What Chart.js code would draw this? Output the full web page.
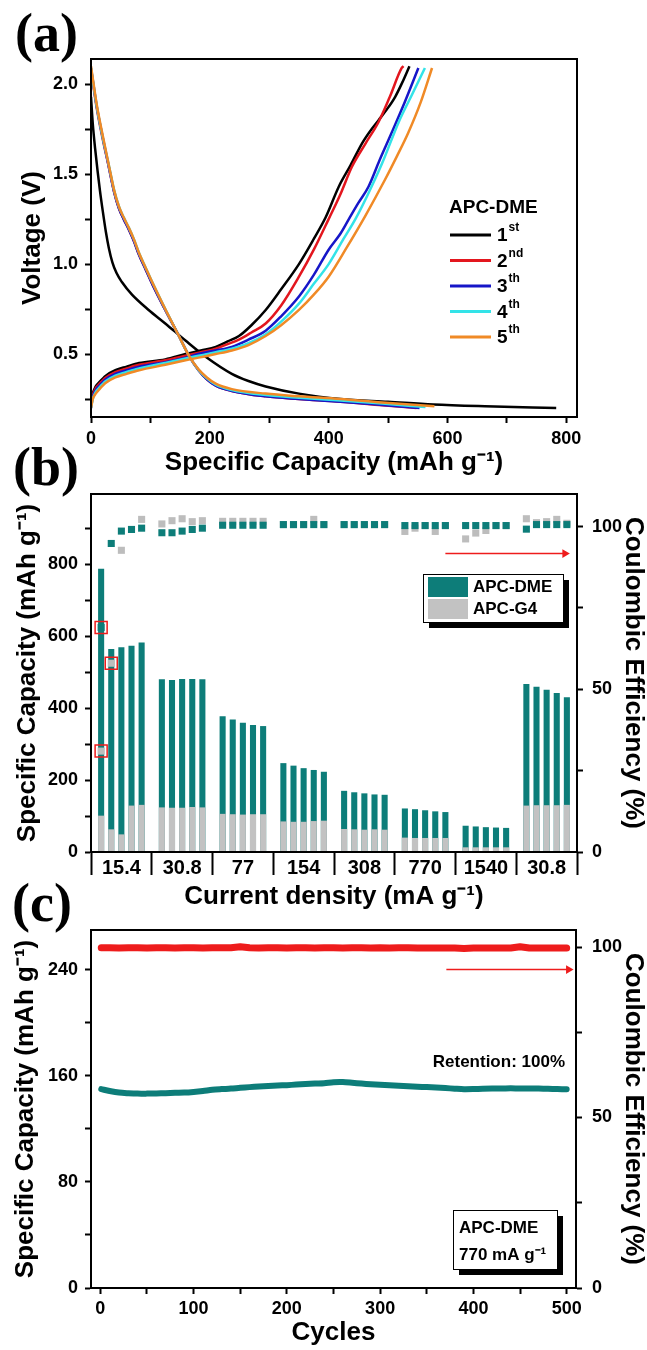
<!DOCTYPE html>
<html>
<head>
<meta charset="utf-8">
<script src="https://cdn.jsdelivr.net/npm/chart.js@4.4.1/dist/chart.umd.min.js"></script>
<style>
  html, body { margin: 0; padding: 0; background: #fff; }
  #wrap { position: relative; width: 647px; height: 1350px; }
  #wrap canvas { position: absolute; left: 0; top: 0; }
</style>
</head>
<body>
<div id="wrap">
  <canvas id="chartA" width="647" height="1350"></canvas>
  <canvas id="chartB" width="647" height="1350"></canvas>
  <canvas id="chartC" width="647" height="1350"></canvas>
</div>
<script>
// ---------- (a) charge/discharge profiles, [capacity mAh/g, voltage V] ----------
const cycleNames = ["1", "2", "3", "4", "5"];
const cycleSups = ["st", "nd", "th", "th", "th"];
const cycleColors = ["#000000", "#e3161e", "#1616c8", "#33e3e8", "#f08a26"];

const dis1 = [[0,1.93],[3,1.78],[7,1.64],[11,1.52],[15,1.41],[20,1.29],[25,1.18],[30,1.09],[36,1.01],[43,0.95],[52,0.9],[69,0.83],[97,0.745],[125,0.67],[159,0.575],[193,0.485],[237,0.39],[265,0.35],[294,0.32],[350,0.28],[420,0.25],[500,0.235],[576,0.22],[663,0.21],[783,0.2]];
const dis2 = [[0,2.08],[10,1.86],[20,1.69],[30,1.54],[39,1.4],[47,1.31],[55,1.25],[64,1.19],[72,1.13],[81,1.05],[92,0.97],[103,0.89],[125,0.745],[148,0.6],[165,0.49],[181,0.41],[195,0.36],[210,0.325],[237,0.295],[294,0.265],[350,0.25],[420,0.235],[490,0.215],[548,0.2]];
const dis3 = [[0,2.09],[10,1.87],[20,1.7],[30,1.54],[39,1.4],[47,1.31],[55,1.25],[64,1.19],[72,1.13],[81,1.05],[92,0.97],[103,0.89],[125,0.745],[148,0.6],[165,0.49],[181,0.41],[195,0.36],[210,0.325],[237,0.295],[294,0.265],[350,0.25],[420,0.235],[490,0.217],[553,0.2]];
const dis4 = [[0,2.09],[10,1.87],[20,1.7],[30,1.55],[39,1.41],[47,1.32],[55,1.26],[64,1.2],[72,1.14],[81,1.06],[92,0.98],[103,0.9],[125,0.75],[148,0.6],[165,0.49],[181,0.412],[195,0.365],[210,0.33],[237,0.3],[294,0.272],[350,0.257],[420,0.242],[490,0.225],[563,0.205]];
const dis5 = [[0,2.1],[10,1.88],[20,1.71],[30,1.55],[39,1.41],[47,1.32],[55,1.26],[64,1.2],[72,1.14],[81,1.06],[92,0.98],[103,0.9],[125,0.75],[148,0.6],[165,0.49],[181,0.415],[195,0.37],[210,0.335],[237,0.305],[294,0.28],[350,0.265],[420,0.25],[490,0.23],[578,0.21]];

const chg1 = [[0,0.22],[3,0.28],[8,0.32],[13,0.34],[25,0.38],[41,0.41],[60,0.43],[81,0.45],[125,0.47],[159,0.5],[185,0.52],[210,0.54],[230,0.57],[249,0.6],[270,0.66],[294,0.745],[320,0.86],[350,1.0],[375,1.14],[395,1.26],[417,1.43],[437,1.55],[456,1.67],[470,1.74],[484,1.8],[498,1.86],[512,1.93],[524,2.01],[536,2.1]];
const chg2 = [[0,0.21],[3,0.27],[8,0.31],[13,0.33],[25,0.37],[41,0.4],[60,0.42],[81,0.44],[125,0.465],[159,0.49],[185,0.51],[210,0.53],[230,0.555],[249,0.58],[270,0.62],[294,0.67],[320,0.77],[350,0.93],[375,1.08],[400,1.25],[420,1.39],[439,1.54],[462,1.67],[484,1.79],[503,1.93],[523,2.09],[526,2.1]];
const chg3 = [[0,0.2],[3,0.26],[8,0.3],[13,0.32],[25,0.36],[41,0.39],[60,0.41],[81,0.43],[125,0.455],[159,0.48],[181,0.5],[210,0.52],[237,0.54],[265,0.58],[294,0.63],[320,0.71],[350,0.82],[375,0.94],[400,1.08],[420,1.17],[434,1.25],[450,1.34],[467,1.43],[486,1.58],[506,1.73],[528,1.9],[551,2.09]];
const chg4 = [[0,0.2],[3,0.25],[8,0.29],[13,0.31],[25,0.35],[41,0.38],[60,0.4],[81,0.42],[125,0.45],[159,0.475],[181,0.49],[210,0.51],[237,0.53],[265,0.56],[294,0.61],[320,0.68],[350,0.78],[375,0.89],[400,1.0],[425,1.14],[445,1.25],[465,1.38],[490,1.56],[518,1.79],[540,1.94],[562,2.09]];
const chg5 = [[0,0.2],[3,0.25],[8,0.28],[13,0.3],[25,0.34],[41,0.37],[60,0.39],[81,0.41],[125,0.44],[159,0.465],[181,0.48],[210,0.5],[237,0.52],[265,0.55],[294,0.6],[320,0.66],[350,0.745],[375,0.83],[400,0.93],[430,1.09],[462,1.27],[495,1.47],[515,1.6],[534,1.73],[555,1.9],[574,2.09]];

// ---------- (b) rate capability, 5 cycles per current density ----------
const rateLabels = ["15.4", "30.8", "77", "154", "308", "770", "1540", "30.8"];
const capTicksB = [0, 100, 200, 300, 400, 500, 600, 700, 800, 900];
const capDME = [787,564,569,573,582, 480,478,481,481,480, 377,368,359,353,350, 247,240,233,228,223, 170,166,163,160,159, 121,119,116,113,111, 73,71,69,68,67, 467,459,451,442,430];
const capG4 = [101,63,49,129,131, 124,123,123,125,124, 106,105,104,105,105, 85,84,84,86,87, 64,63,62,63,62, 40,39,39,39,39, 13,13,13,13,13, 129,130,130,130,131];
const ceDME = [69,94.8,98.6,99.1,99.5, 98.1,98.1,98.6,99.1,99.5, 100.4,100.4,100.4,100.4,100.4, 100.6,100.6,100.6,100.6,100.6, 100.6,100.6,100.6,100.6,100.6, 100.3,100.3,100.3,100.3,100.3, 100.3,100.3,100.3,100.3,100.3, 99.2,100.6,100.6,100.6,100.6];
const ceG4 = [31,58,92.7,99.1,102.2, 100.8,101.8,102.4,101.5,101.8, 101.6,101.6,101.6,101.6,101.6, 100.6,100.6,100.6,102.2,100.6, 100.6,100.6,100.6,100.6,100.6, 98.5,99.5,100.3,98.5,100.3, 96.2,98.0,98.8,100.3,100.3, 102.4,101.2,101.5,102.2,101.0];
const arrowB = [[35, 91.7], [46.8, 91.7]];

// ---------- (c) long cycling at 770 mA/g ----------
const cyclesC = [1,10,20,30,40,50,60,70,80,90,100,110,120,130,140,150,160,170,180,190,200,210,220,230,240,250,260,270,280,290,300,310,320,330,340,350,360,370,380,390,400,410,420,430,440,450,460,470,480,490,500];
const capC = [150.0,148.6,147.4,146.9,146.6,146.6,146.7,146.9,147.2,147.4,147.9,148.6,149.5,150.0,150.4,151.0,151.5,151.9,152.3,152.7,153.0,153.4,153.8,154.2,154.5,155.2,155.3,154.8,154.2,153.7,153.3,152.9,152.5,152.2,151.8,151.5,151.2,150.8,150.3,149.9,150.0,150.3,150.4,150.4,150.6,150.4,150.5,150.4,150.2,150.0,149.9];
const ceC = [99.8,99.8,99.7,99.8,99.8,99.7,99.8,99.8,99.7,99.8,99.8,99.7,99.8,99.8,99.8,100.1,99.8,99.7,99.8,99.8,99.7,99.8,99.8,99.7,99.8,99.8,99.7,99.8,99.8,99.7,99.8,99.7,99.8,99.8,99.7,99.7,99.7,99.7,99.7,99.6,99.7,99.7,99.7,99.7,99.7,100.1,99.7,99.7,99.7,99.7,99.7];
const arrowC = [[371, 93.4], [502, 93.4]];

const TEAL = "#0d7d79";
const GREY = "#c2c2c2";
const RED = "#ee1c1c";
const SANS = '"Liberation Sans", Arial, Helvetica, sans-serif';

Chart.defaults.font.family = SANS;
Chart.defaults.font.size = 18;
Chart.defaults.font.weight = "bold";
Chart.defaults.color = "#000";
Chart.defaults.animation = false;
Chart.defaults.plugins.legend.display = false;
Chart.defaults.plugins.tooltip.enabled = false;

const toXY = (pairs) => pairs.map(([x, y]) => ({ x, y }));

function axis(extra) {
  const base = {
    type: "linear",
    border: { display: true, color: "#000", width: 2 },
    grid: { drawOnChartArea: false, drawTicks: true, tickLength: 6, tickWidth: 2, tickColor: "#000" },
    ticks: { autoSkip: false, maxRotation: 0, minRotation: 0, includeBounds: false, color: "#000" },
  };
  const out = { ...base, ...extra };
  out.grid = { ...base.grid, ...(extra.grid || {}) };
  out.ticks = { ...base.ticks, ...(extra.ticks || {}) };
  return out;
}

function axisTitle(text, top, bottom) {
  return { display: true, text, font: { size: 26, lineHeight: 1 }, padding: { top, bottom } };
}

const frame = {
  id: "frame",
  afterDatasetsDraw(chart) {
    const { ctx, chartArea: a } = chart;
    ctx.save();
    ctx.strokeStyle = "#000";
    ctx.lineWidth = 2;
    ctx.strokeRect(a.left, a.top, a.right - a.left, a.bottom - a.top);
    ctx.restore();
  },
};

const panelTag = {
  id: "panelTag",
  afterDraw(chart, args, opts) {
    const { ctx, chartArea: a } = chart;
    ctx.save();
    ctx.font = 'bold 54px "Liberation Serif", "Times New Roman", serif';
    ctx.fillStyle = "#000";
    ctx.textBaseline = "alphabetic";
    ctx.fillText(opts.text, a.left + opts.dx, a.top + opts.dy);
    ctx.restore();
  },
};

function shadowBox(ctx, x, y, w, h) {
  ctx.fillStyle = "#000";
  ctx.fillRect(x + 6, y + 6, w, h);
  ctx.fillStyle = "#fff";
  ctx.fillRect(x, y, w, h);
  ctx.strokeStyle = "#000";
  ctx.lineWidth = 1;
  ctx.strokeRect(x + 0.5, y + 0.5, w, h);
}

// ---------- chart (a) ----------
const legendA = {
  id: "legendA",
  afterDatasetsDraw(chart) {
    const { ctx, chartArea: a } = chart;
    const x0 = a.right - 127;
    const y0 = a.top + 149;
    ctx.save();
    ctx.fillStyle = "#000";
    ctx.textBaseline = "middle";
    ctx.font = "bold 19px " + SANS;
    ctx.fillText("APC-DME", x0 - 1, y0);
    cycleNames.forEach((name, i) => {
      const y = y0 + 27 + i * 25.5;
      ctx.strokeStyle = cycleColors[i];
      ctx.lineWidth = 3;
      ctx.beginPath();
      ctx.moveTo(x0, y);
      ctx.lineTo(x0 + 41, y);
      ctx.stroke();
      ctx.font = "bold 19px " + SANS;
      ctx.fillText(name, x0 + 47, y + 1);
      const w = ctx.measureText(name).width;
      ctx.font = "bold 12px " + SANS;
      ctx.fillText(cycleSups[i], x0 + 48 + w, y - 7);
    });
    ctx.restore();
  },
};

const disSets = [dis1, dis2, dis3, dis4, dis5];
const chgSets = [chg1, chg2, chg3, chg4, chg5];
const profileSets = [];
cycleNames.forEach((name, i) => {
  [disSets[i], chgSets[i]].forEach((arr) => {
    profileSets.push({
      label: name + cycleSups[i],
      data: toXY(arr),
      borderColor: cycleColors[i],
      borderWidth: 2.5,
      pointRadius: 0,
      cubicInterpolationMode: "monotone",
      order: 4 - i,
    });
  });
});

new Chart(document.getElementById("chartA"), {
  type: "line",
  data: { datasets: profileSets },
  options: {
    responsive: false,
    layout: { padding: { top: 59, right: 70, bottom: 871, left: 0 } },
    scales: {
      x: axis({
        min: 0, max: 818,
        ticks: { stepSize: 100, padding: 5, callback: (v) => (v % 200 === 0 ? v : "") },
        title: axisTitle("Specific Capacity (mAh g⁻¹)", 0, 3),
        afterFit: (s) => { s.height = 62; },
      }),
      y: axis({
        min: 0.15, max: 2.14,
        ticks: { stepSize: 0.25, padding: 7, callback: (v) => (Math.abs(v * 2 - Math.round(v * 2)) < 1e-6 ? v.toFixed(1) : "") },
        title: axisTitle("Voltage (V)", 20, 0),
        afterFit: (s) => { s.width = 91; },
      }),
    },
    plugins: { panelTag: { text: "(a)", dx: -76, dy: -8 } },
  },
  plugins: [frame, legendA, panelTag],
});

// ---------- chart (b) ----------
const cyclePos = capDME.map((_, k) => Math.floor(k / 5) * 6 + (k % 5) + 1);
const outliers = [];
cyclePos.forEach((x, k) => {
  if (ceDME[k] < 80) outliers.push({ x, y: ceDME[k] });
  if (ceG4[k] < 80) outliers.push({ x, y: ceG4[k] });
});

const legendB = {
  id: "legendB",
  afterDraw(chart) {
    const { ctx, chartArea: a } = chart;
    const x = a.right - 154, y = a.top + 80, w = 140, h = 48;
    ctx.save();
    shadowBox(ctx, x, y, w, h);
    ctx.fillStyle = TEAL;
    ctx.fillRect(x + 5, y + 3, 40, 20);
    ctx.fillStyle = GREY;
    ctx.fillRect(x + 5, y + 25, 40, 20);
    ctx.fillStyle = "#000";
    ctx.font = "bold 17px " + SANS;
    ctx.textBaseline = "middle";
    ctx.fillText("APC-DME", x + 50, y + 13);
    ctx.fillText("APC-G4", x + 50, y + 35);
    ctx.restore();
  },
};

new Chart(document.getElementById("chartB"), {
  type: "bar",
  data: {
    datasets: [
      {
        type: "line", label: "outlier", data: outliers, yAxisID: "y2", showLine: false,
        pointStyle: "rect", pointRadius: 8.5, pointBackgroundColor: "rgba(0,0,0,0)",
        pointBorderColor: RED, pointBorderWidth: 1.5, order: -1,
      },
      {
        type: "line", label: "arrow", data: toXY(arrowB), yAxisID: "y2",
        borderColor: RED, borderWidth: 1.5, pointStyle: "triangle", pointRotation: 90,
        pointRadius: [0, 5], pointBackgroundColor: RED, pointBorderColor: RED, pointBorderWidth: 0, order: 0,
      },
      {
        type: "line", label: "CE APC-DME", data: cyclePos.map((x, k) => ({ x, y: ceDME[k] })), yAxisID: "y2",
        showLine: false, pointStyle: "rect", pointRadius: 5, pointBackgroundColor: TEAL, pointBorderWidth: 0, order: 1,
      },
      {
        type: "line", label: "CE APC-G4", data: cyclePos.map((x, k) => ({ x, y: ceG4[k] })), yAxisID: "y2",
        showLine: false, pointStyle: "rect", pointRadius: 5, pointBackgroundColor: "#bdbdbd", pointBorderWidth: 0, order: 2,
      },
      {
        label: "APC-G4", data: cyclePos.map((x, k) => ({ x, y: capG4[k] })), yAxisID: "y",
        backgroundColor: GREY, grouped: false, categoryPercentage: 1, barPercentage: 0.6, order: 3,
      },
      {
        label: "APC-DME", data: cyclePos.map((x, k) => ({ x, y: capDME[k] })), yAxisID: "y",
        backgroundColor: TEAL, grouped: false, categoryPercentage: 1, barPercentage: 0.6, order: 4,
      },
    ],
  },
  options: {
    responsive: false,
    layout: { padding: { top: 494, right: 0, bottom: 440, left: 0 } },
    scales: {
      x: axis({
        min: 0, max: 48, offset: false,
        grid: { offset: false, tickLength: 23, tickColor: (c) => (c.tick && c.tick.value % 6 === 0 ? "#000" : "rgba(0,0,0,0)") },
        ticks: { stepSize: 3, padding: -19, font: { size: 20 }, callback: (v) => (v % 6 === 3 ? rateLabels[(v - 3) / 6] : "") },
        title: axisTitle("Current density (mA g⁻¹)", 0, 0),
        afterFit: (s) => { s.height = 58; },
      }),
      y: axis({
        position: "left", min: 0, max: 995,
        ticks: { padding: 7, callback: (v) => (v % 200 === 0 ? v : "") },
        afterBuildTicks: (s) => { s.ticks = capTicksB.map((v) => ({ value: v })); },
        title: axisTitle("Specific Capacity (mAh g⁻¹)", 15, 0),
        afterFit: (s) => { s.width = 91; },
      }),
      y2: axis({
        position: "right", min: 0, max: 110,
        ticks: { stepSize: 25, padding: 9, callback: (v) => (v % 50 === 0 ? v : "") },
        title: axisTitle("Coulombic Efficiency (%)", 1, 0),
        afterFit: (s) => { s.width = 70; },
      }),
    },
    plugins: { panelTag: { text: "(b)", dx: -78, dy: -9 } },
  },
  plugins: [frame, legendB, panelTag],
});

// ---------- chart (c) ----------
const notesC = {
  id: "notesC",
  afterDraw(chart) {
    const { ctx, chartArea: a } = chart;
    ctx.save();
    ctx.fillStyle = "#000";
    ctx.font = "bold 17px " + SANS;
    ctx.textBaseline = "middle";
    ctx.textAlign = "right";
    ctx.fillText("Retention: 100%", a.right - 11, a.top + 132);
    const x = a.right - 123, y = a.top + 280, w = 104, h = 59;
    shadowBox(ctx, x, y, w, h);
    ctx.fillStyle = "#000";
    ctx.textAlign = "left";
    ctx.fillText("APC-DME", x + 6, y + 18);
    ctx.fillText("770 mA g⁻¹", x + 6, y + 45);
    ctx.restore();
  },
};

new Chart(document.getElementById("chartC"), {
  type: "line",
  data: {
    datasets: [
      {
        label: "arrow", data: toXY(arrowC), yAxisID: "y2",
        borderColor: RED, borderWidth: 1.5, pointStyle: "triangle", pointRotation: 90,
        pointRadius: [0, 5], pointBackgroundColor: RED, pointBorderColor: RED, pointBorderWidth: 0,
      },
      {
        label: "Coulombic efficiency", data: cyclesC.map((x, k) => ({ x, y: ceC[k] })), yAxisID: "y2",
        borderColor: RED, borderWidth: 7, pointRadius: 0, tension: 0, borderCapStyle: "round", borderJoinStyle: "round",
      },
      {
        label: "Capacity", data: cyclesC.map((x, k) => ({ x, y: capC[k] })), yAxisID: "y",
        borderColor: TEAL, borderWidth: 6, pointRadius: 0, tension: 0.3, borderCapStyle: "round",
      },
    ],
  },
  options: {
    responsive: false,
    layout: { padding: { top: 930, right: 0, bottom: 2, left: 0 } },
    scales: {
      x: axis({
        min: -10, max: 510,
        ticks: { stepSize: 50, padding: 4, callback: (v) => (v % 100 === 0 ? v : "") },
        title: axisTitle("Cycles", 0, 2),
        afterFit: (s) => { s.height = 60; },
      }),
      y: axis({
        position: "left", min: 0, max: 270,
        ticks: { stepSize: 40, padding: 7, callback: (v) => (v % 80 === 0 ? v : "") },
        title: axisTitle("Specific Capacity (mAh g⁻¹)", 13, 0),
        afterFit: (s) => { s.width = 91; },
      }),
      y2: axis({
        position: "right", min: 0, max: 105,
        ticks: { stepSize: 25, padding: 10, callback: (v) => (v % 50 === 0 ? v : "") },
        title: axisTitle("Coulombic Efficiency (%)", 1, 0),
        afterFit: (s) => { s.width = 71; },
      }),
    },
    plugins: { panelTag: { text: "(c)", dx: -79, dy: -9 } },
  },
  plugins: [frame, notesC, panelTag],
});
</script>
</body>
</html>
